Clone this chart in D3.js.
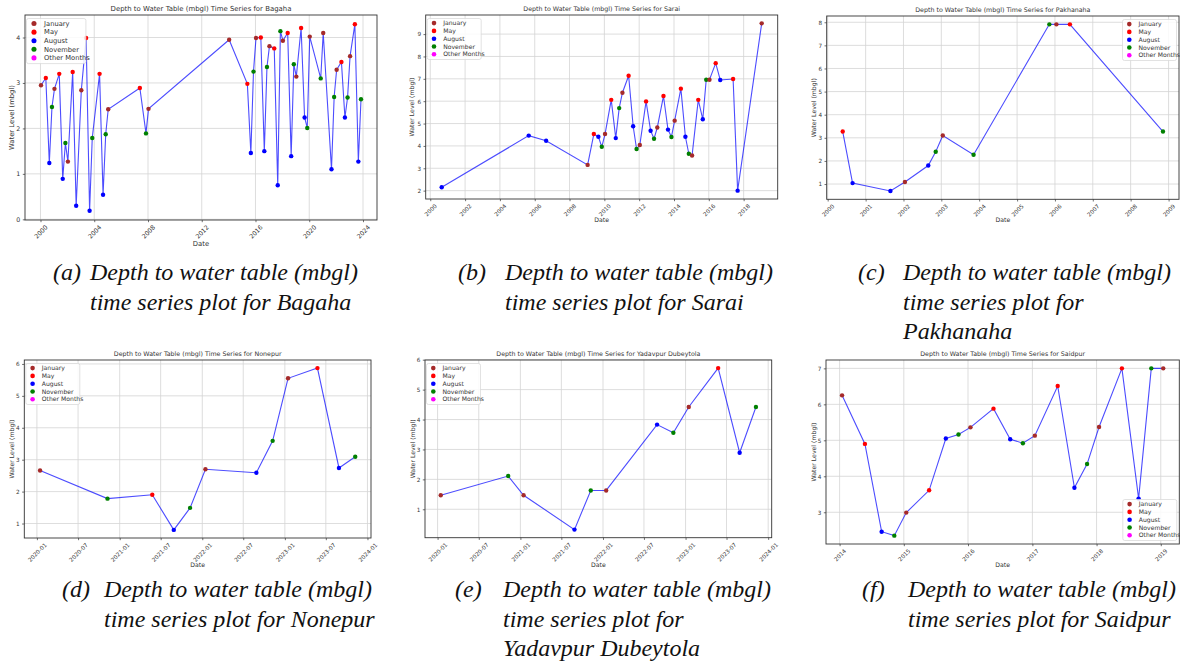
<!DOCTYPE html>
<html>
<head>
<meta charset="utf-8">
<script src="https://cdn.jsdelivr.net/npm/d3@7"></script>
<style>
  body { margin: 0; background: #fff; }
  svg text { font-family: "DejaVu Sans", sans-serif; fill: #333; }
  svg text.caption { font-family: "Liberation Serif", "Times New Roman", serif; font-style: italic; font-size: 24px; fill: #111; }
</style>
</head>
<body>
<svg id="fig" width="1180" height="668"></svg>
<script>

// observation month -> day of month used for plotting
var obsDay = {1: 15, 5: 25, 8: 28, 11: 8};

var legendLabels = ["January", "May", "August", "November", "Other Months"];
var legendColors = ["#a52a2a", "#ff0000", "#0000ff", "#008000", "#ff00ff"];

// (a) Bagaha
var bagahaDates = ["2000-01","2000-05","2000-08","2000-11","2001-01","2001-05","2001-08","2001-11","2002-01","2002-05","2002-08",
  "2003-01","2003-05","2003-08","2003-11","2004-05","2004-08","2004-11","2005-01","2007-05","2007-11","2008-01","2014-01",
  "2015-05","2015-08","2015-11","2016-01","2016-05","2016-08","2016-11","2017-01","2017-05","2017-08","2017-11","2018-01",
  "2018-05","2018-08","2018-11","2019-01","2019-05","2019-08","2019-11","2020-01","2020-11","2021-01","2021-08","2021-11",
  "2022-01","2022-05","2022-08","2022-11","2023-01","2023-05","2023-08","2023-11"];
var bagahaLevels = [2.95,3.11,1.24,2.47,2.87,3.20,0.89,1.68,1.27,3.24,0.30,
  2.84,3.99,0.19,1.79,3.20,0.54,1.87,2.42,2.89,1.89,2.43,3.95,
  2.98,1.46,3.25,3.99,4.00,1.50,3.35,3.81,3.76,0.75,4.14,3.93,
  4.10,1.39,3.41,3.14,4.21,2.24,2.01,4.02,3.10,4.10,1.10,2.69,
  3.29,3.46,2.24,2.68,3.59,4.29,1.27,2.64];
var bagahaXTicks = ["2000-01","2004-01","2008-01","2012-01","2016-01","2020-01","2024-01"];
var bagahaYTicks = [0, 1, 2, 3, 4];

// (b) Sarai
var saraiDates = ["2000-08","2005-08","2006-08","2009-01","2009-05","2009-08","2009-11","2010-01","2010-05","2010-08","2010-11",
  "2011-01","2011-05","2011-08","2011-11","2012-01","2012-05","2012-08","2012-11","2013-01","2013-05","2013-08","2013-11",
  "2014-01","2014-05","2014-08","2014-11","2015-01","2015-05","2015-08","2015-11","2016-01","2016-05","2016-08","2017-05",
  "2017-08","2019-01"];
var saraiLevels = [2.15,4.46,4.23,3.15,4.53,4.41,3.96,4.53,6.06,4.35,5.69,
  6.38,7.14,4.88,3.86,4.04,5.99,4.68,4.32,4.82,6.23,4.73,4.40,
  5.13,6.56,4.41,3.65,3.57,6.06,5.19,6.96,6.96,7.70,6.95,6.99,
  2.00,9.48];
var saraiXTicks = ["2000-01","2002-01","2004-01","2006-01","2008-01","2010-01","2012-01","2014-01","2016-01","2018-01"];
var saraiYTicks = [2, 3, 4, 5, 6, 7, 8, 9];

// (c) Pakhanaha
var pakhanahaDates = ["2000-05","2000-08","2001-08","2002-01","2002-08","2002-11","2003-01","2003-11","2005-11","2006-01","2006-05","2008-11"];
var pakhanahaLevels = [3.27,1.04,0.70,1.09,1.80,2.40,3.10,2.27,7.91,7.91,7.91,3.27];
var pakhanahaXTicks = ["2000-01","2001-01","2002-01","2003-01","2004-01","2005-01","2006-01","2007-01","2008-01","2009-01"];
var pakhanahaYTicks = [1, 2, 3, 4, 5, 6, 7, 8];

// (d) Nonepur
var nonepurDates = ["2020-01","2020-11","2021-05","2021-08","2021-11","2022-01","2022-08","2022-11","2023-01","2023-05","2023-08","2023-11"];
var nonepurLevels = [2.66,1.78,1.90,0.80,1.49,2.70,2.59,3.59,5.55,5.87,2.74,3.09];
var halfYearTicks = ["2020-01","2020-07","2021-01","2021-07","2022-01","2022-07","2023-01","2023-07","2024-01"];
var nonepurYTicks = [1, 2, 3, 4, 5, 6];

// (e) Yadavpur Dubeytola
var yadavpurDates = ["2020-01","2020-11","2021-01","2021-08","2021-11","2022-01","2022-08","2022-11","2023-01","2023-05","2023-08","2023-11"];
var yadavpurLevels = [1.47,2.11,1.47,0.32,1.63,1.63,3.83,3.56,4.42,5.72,2.89,4.42];
var yadavpurYTicks = [1, 2, 3, 4, 5, 6];

// (f) Saidpur
var saidpurDates = ["2014-01","2014-05","2014-08","2014-11","2015-01","2015-05","2015-08","2015-11","2016-01","2016-05","2016-08",
  "2016-11","2017-01","2017-05","2017-08","2017-11","2018-01","2018-05","2018-08","2018-11","2019-01"];
var saidpurLevels = [6.25,4.90,2.46,2.35,2.99,3.61,5.05,5.16,5.36,5.88,5.03,
  4.92,5.13,6.51,3.68,4.34,5.37,7.00,3.38,7.00,7.00];
var saidpurXTicks = ["2014-01","2015-01","2016-01","2017-01","2018-01","2019-01"];
var saidpurYTicks = [3, 4, 5, 6, 7];

var svg = d3.select("#fig");
var parseMonth = d3.timeParse("%Y-%m");

function obsDate(s) {
  var d = parseMonth(s);
  d.setDate(obsDay[d.getMonth() + 1] || 15);
  return d;
}

function monthColor(m) {
  if (m === 0) return legendColors[0];
  if (m === 4) return legendColors[1];
  if (m === 7) return legendColors[2];
  if (m === 10) return legendColors[3];
  return legendColors[4];
}

function drawPanel(p) {
  var g = svg.append("g");
  var s = p.scale || 1;

  var pts = p.dates.map(function(d, i) { return {date: obsDate(d), value: p.levels[i]}; });
  var xe = d3.extent(pts, function(d) { return +d.date; });
  var xm = (xe[1] - xe[0]) * 0.05;
  var x = d3.scaleTime()
    .domain([new Date(xe[0] - xm), new Date(xe[1] + xm)])
    .range([p.left, p.right]);
  var ye = d3.extent(p.levels);
  var ym = (ye[1] - ye[0]) * 0.05;
  var y = d3.scaleLinear()
    .domain([ye[0] - ym, ye[1] + ym])
    .range([p.bottom, p.top]);

  var xt = p.xTicks.map(parseMonth);

  // grid
  g.selectAll("line.gx").data(xt).enter().append("line")
    .attr("x1", x).attr("x2", x)
    .attr("y1", p.top).attr("y2", p.bottom)
    .attr("stroke", "#d4d4d4").attr("stroke-width", 0.8);
  g.selectAll("line.gy").data(p.yTicks).enter().append("line")
    .attr("x1", p.left).attr("x2", p.right)
    .attr("y1", y).attr("y2", y)
    .attr("stroke", "#d4d4d4").attr("stroke-width", 0.8);

  // series
  g.append("path").datum(pts)
    .attr("d", d3.line().x(function(d) { return x(d.date); }).y(function(d) { return y(d.value); }))
    .attr("fill", "none")
    .attr("stroke", "#0000ff")
    .attr("stroke-opacity", 0.7)
    .attr("stroke-width", 1.1);

  g.selectAll("circle.pt").data(pts).enter().append("circle")
    .attr("cx", function(d) { return x(d.date); })
    .attr("cy", function(d) { return y(d.value); })
    .attr("r", 2.2)
    .attr("fill", function(d) { return monthColor(d.date.getMonth()); });

  // axes
  var fs = 5.7 * s;
  var xa = g.append("g")
    .attr("transform", "translate(0," + p.bottom + ")")
    .call(d3.axisBottom(x).tickValues(xt).tickSize(2.2).tickFormat(d3.timeFormat(p.xFormat)));
  xa.select(".domain").remove();
  xa.selectAll("line").attr("stroke", "#333").attr("stroke-width", 0.7);
  xa.selectAll("text")
    .attr("font-size", fs)
    .attr("font-family", "DejaVu Sans")
    .attr("fill", "#444")
    .attr("y", null).attr("dy", "0.35em")
    .attr("text-anchor", "middle")
    .attr("transform", function() {
      var w = this.getComputedTextLength();
      var off = 4 + (w + fs) * 0.707 / 2;
      return "translate(0," + off + ") rotate(-45)";
    });

  var ya = g.append("g")
    .attr("transform", "translate(" + p.left + ",0)")
    .call(d3.axisLeft(y).tickValues(p.yTicks).tickSize(2.2).tickPadding(2.5).tickFormat(d3.format("d")));
  ya.select(".domain").remove();
  ya.selectAll("line").attr("stroke", "#333").attr("stroke-width", 0.7);
  ya.selectAll("text").attr("font-size", fs).attr("font-family", "DejaVu Sans").attr("fill", "#444");

  // frame
  g.append("rect")
    .attr("x", p.left).attr("y", p.top)
    .attr("width", p.right - p.left).attr("height", p.bottom - p.top)
    .attr("fill", "none").attr("stroke", "#333").attr("stroke-width", 0.9);

  // labels
  g.append("text")
    .attr("x", (p.left + p.right) / 2).attr("y", p.top - 4.5)
    .attr("text-anchor", "middle")
    .attr("font-size", 6.3 * s)
    .text("Depth to Water Table (mbgl) Time Series for " + p.name);
  g.append("text")
    .attr("x", (p.left + p.right) / 2).attr("y", p.bottom + p.dateDy)
    .attr("text-anchor", "middle").attr("dy", "0.35em")
    .attr("font-size", 6.2 * s)
    .text("Date");
  g.append("text")
    .attr("transform", "translate(" + (p.left - p.ylabDx) + "," + ((p.top + p.bottom) / 2) + ") rotate(-90)")
    .attr("text-anchor", "middle").attr("dy", "0.35em")
    .attr("font-size", 6.2 * s)
    .text("Water Level (mbgl)");

  // legend
  var lw = 54 * s, lh = 41 * s;
  var lx = p.legend === "ul" ? p.left + 1.5 : p.right - lw - 2.5;
  var ly = p.legend === "lr" ? p.bottom - lh - 3.5 : p.top + 3.5;
  var lg = g.append("g").attr("transform", "translate(" + lx + "," + ly + ")");
  lg.append("rect")
    .attr("width", lw).attr("height", lh).attr("rx", 2)
    .attr("fill", "#fff").attr("fill-opacity", 0.85)
    .attr("stroke", "#d6d6d6").attr("stroke-width", 0.7);
  var row = lg.selectAll("g.row").data(legendLabels).enter().append("g")
    .attr("transform", function(d, i) { return "translate(0," + (4.6 * s + i * 7.8 * s) + ")"; });
  row.append("circle")
    .attr("cx", 6.8 * s).attr("r", 2.3 * s)
    .attr("fill", function(d, i) { return legendColors[i]; });
  row.append("text")
    .attr("x", 16 * s).attr("dy", "0.35em")
    .attr("font-size", 6.1 * s)
    .text(function(d) { return d; });

  // caption
  var cap = svg.append("g");
  cap.append("text").attr("class", "caption").attr("x", p.capX).attr("y", p.capY).text(p.tag);
  cap.selectAll("text.line").data(p.caption).enter().append("text")
    .attr("class", "caption")
    .attr("x", p.capTextX)
    .attr("y", function(d, i) { return p.capY + i * 29.5; })
    .text(function(d) { return d; });
}

var captionHead = "Depth to water table (mbgl)";

drawPanel({name: "Bagaha", dates: bagahaDates, levels: bagahaLevels, xTicks: bagahaXTicks, yTicks: bagahaYTicks,
  xFormat: "%Y", left: 25, right: 377, top: 15, bottom: 220, scale: 1.1, legend: "ul", dateDy: 24, ylabDx: 13.5,
  tag: "(a)", capX: 53, capTextX: 90, capY: 280, caption: [captionHead, "time series plot for Bagaha"]});

drawPanel({name: "Sarai", dates: saraiDates, levels: saraiLevels, xTicks: saraiXTicks, yTicks: saraiYTicks,
  xFormat: "%Y", left: 425.7, right: 777.7, top: 15, bottom: 199, legend: "ul", dateDy: 21, ylabDx: 13.7,
  tag: "(b)", capX: 458, capTextX: 505, capY: 280, caption: [captionHead, "time series plot for Sarai"]});

drawPanel({name: "Pakhanaha", dates: pakhanahaDates, levels: pakhanahaLevels, xTicks: pakhanahaXTicks, yTicks: pakhanahaYTicks,
  xFormat: "%Y", left: 826.7, right: 1179, top: 16, bottom: 199.3, legend: "ur", dateDy: 21, ylabDx: 12.7,
  tag: "(c)", capX: 858, capTextX: 903, capY: 280, caption: [captionHead, "time series plot for", "Pakhanaha"]});

drawPanel({name: "Nonepur", dates: nonepurDates, levels: nonepurLevels, xTicks: halfYearTicks, yTicks: nonepurYTicks,
  xFormat: "%Y-%m", left: 24.3, right: 371, top: 360, bottom: 538, legend: "ul", dateDy: 27, ylabDx: 12.6,
  tag: "(d)", capX: 62, capTextX: 104, capY: 597, caption: [captionHead, "time series plot for Nonepur"]});

drawPanel({name: "Yadavpur Dubeytola", dates: yadavpurDates, levels: yadavpurLevels, xTicks: halfYearTicks, yTicks: yadavpurYTicks,
  xFormat: "%Y-%m", left: 425, right: 771.7, top: 360, bottom: 537.7, legend: "ul", dateDy: 27, ylabDx: 12.3,
  tag: "(e)", capX: 455, capTextX: 503, capY: 597, caption: [captionHead, "time series plot for", "Yadavpur Dubeytola"]});

drawPanel({name: "Saidpur", dates: saidpurDates, levels: saidpurLevels, xTicks: saidpurXTicks, yTicks: saidpurYTicks,
  xFormat: "%Y", left: 826, right: 1179.3, top: 360, bottom: 544, legend: "lr", dateDy: 21, ylabDx: 12,
  tag: "(f)", capX: 862, capTextX: 908, capY: 597, caption: [captionHead, "time series plot for Saidpur"]});

</script>
</body>
</html>
